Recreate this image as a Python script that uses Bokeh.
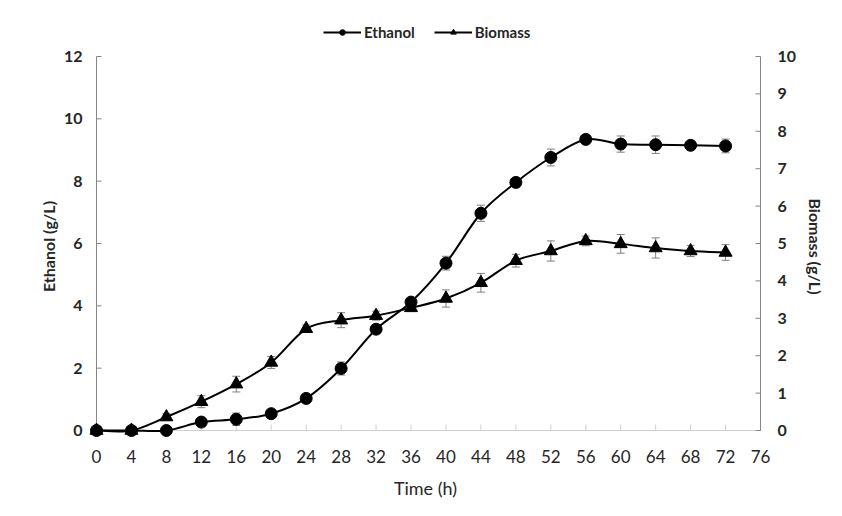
import math
from bokeh.plotting import figure
from bokeh.layouts import column
from bokeh.models import (Range1d, LinearAxis, FixedTicker, ColumnDataSource,
                          Legend, LegendItem)
from bokeh.embed import file_html
from bokeh.resources import INLINE

# ---- data ----
time_h = [0, 4, 8, 12, 16, 20, 24, 28, 32, 36, 40, 44, 48, 52, 56, 60, 64, 68, 72]
ethanol = [0, 0, 0, 0.27, 0.36, 0.54, 1.03, 1.99, 3.25, 4.12, 5.37, 6.97, 7.96,
           8.76, 9.34, 9.19, 9.17, 9.15, 9.13]
ethanol_err = [0, 0, 0, 0.05, 0.2, 0.08, 0.05, 0.21, 0.05, 0.1, 0.22, 0.26, 0.1,
               0.27, 0.08, 0.26, 0.28, 0.1, 0.22]
biomass = [0, 0, 0.36, 0.77, 1.24, 1.82, 2.72, 2.95, 3.07, 3.28, 3.53, 3.95, 4.54,
           4.8, 5.07, 4.99, 4.88, 4.8, 4.76]
biomass_err = [0, 0, 0.09, 0.16, 0.21, 0.16, 0.1, 0.2, 0.12, 0.1, 0.23, 0.25, 0.17,
               0.27, 0.13, 0.25, 0.27, 0.15, 0.21]
x_ticks = list(range(0, 77, 4))
left_ticks = [0, 2, 4, 6, 8, 10, 12]
right_ticks = list(range(0, 11))

FONT = "Lato"
TXT = "#262626"
AXC = "#868686"
XAXC = "#d0d0d0"
ERR = "#7f7f7f"

# ---- geometry of the plotting area (pixels) ----
W, LEG_H, MAIN_H = 842, 46, 470
AX_W, AX_H = 664, 374          # axis box: x 0..76, y 0..12
PAD_L, PAD_B, PAD_R, PAD_T = 8, 8, 2, 2   # frame slack so markers are not clipped

x0v, x1v = x_ticks[0], x_ticks[-1]
yl0, yl1 = left_ticks[0], left_ticks[-1]
yr0, yr1 = right_ticks[0], right_ticks[-1]
sx = AX_W / (x1v - x0v)
syl = AX_H / (yl1 - yl0)
syr = AX_H / (yr1 - yr0)


def smooth(xs, ys):
    """Catmull-Rom style cubic Bezier segments through the data points."""
    n = len(xs)
    d = dict(x0=[], y0=[], x1=[], y1=[], cx0=[], cy0=[], cx1=[], cy1=[])
    for i in range(n - 1):
        a = i - 1 if i > 0 else i
        b = i + 2 if i + 2 < n else i + 1
        d["x0"].append(xs[i]); d["y0"].append(ys[i])
        d["x1"].append(xs[i + 1]); d["y1"].append(ys[i + 1])
        d["cx0"].append(xs[i] + (xs[i + 1] - xs[a]) / 6.0)
        d["cy0"].append(ys[i] + (ys[i + 1] - ys[a]) / 6.0)
        d["cx1"].append(xs[i + 1] - (xs[b] - xs[i]) / 6.0)
        d["cy1"].append(ys[i + 1] - (ys[b] - ys[i]) / 6.0)
    return ColumnDataSource(d)


p = figure(width=W, height=MAIN_H, output_backend="svg", toolbar_location=None,
           x_range=Range1d(x0v - PAD_L / sx, x1v + PAD_R / sx),
           y_range=Range1d(yl0 - PAD_B / syl, yl1 + PAD_T / syl),
           min_border_left=96 - PAD_L, min_border_right=82 - PAD_R,
           min_border_top=56 - LEG_H - PAD_T, min_border_bottom=86 - PAD_B,
           background_fill_color="white", border_fill_color="white")
p.extra_y_ranges = {"bio": Range1d(yr0 - PAD_B / syr, yr1 + PAD_T / syr)}
p.outline_line_color = None
p.xgrid.visible = False
p.ygrid.visible = False


def style_axis(ax, size, bold, standoff):
    ax.axis_line_color = None
    ax.major_tick_line_color = None
    ax.minor_tick_line_color = None
    ax.major_tick_in = 0
    ax.major_tick_out = 0
    ax.minor_tick_in = 0
    ax.minor_tick_out = 0
    ax.major_label_text_font = FONT
    ax.major_label_text_font_size = size
    ax.major_label_text_font_style = "bold" if bold else "normal"
    ax.major_label_text_color = TXT
    ax.major_label_standoff = standoff
    ax.axis_label_text_font = FONT
    ax.axis_label_text_color = TXT


# x axis (labels only; line and ticks drawn at y = 0 below)
xa = p.xaxis[0]
xa.ticker = FixedTicker(ticks=x_ticks)
style_axis(xa, "17px", False, 19 - PAD_B)
xa.axis_label = "Time (h)"
xa.axis_label_text_font_size = "18px"
xa.axis_label_text_font_style = "normal"
xa.axis_label_standoff = 11

# left axis
ya = p.yaxis[0]
ya.ticker = FixedTicker(ticks=left_ticks)
style_axis(ya, "16px", True, 14 - PAD_L)
ya.axis_label = "Ethanol (g/L)"
ya.axis_label_text_font_size = "16px"
ya.axis_label_text_font_style = "bold"
ya.axis_label_standoff = 3

# right axis
ra = LinearAxis(y_range_name="bio", ticker=FixedTicker(ticks=right_ticks))
style_axis(ra, "16px", True, 17 - PAD_R)
ra.axis_label = "Biomass (g/L)"
ra.axis_label_text_font_size = "16px"
ra.axis_label_text_font_style = "bold"
ra.axis_label_standoff = 7
p.add_layout(ra, "right")

# axis lines and inward ticks
p.segment(x0=[x0v], y0=[yl0], x1=[x1v], y1=[yl0], line_color=XAXC, line_width=1)
p.ray(x=x_ticks, y=[yl0] * len(x_ticks), length=6, length_units="screen",
      angle=math.pi / 2, line_color=XAXC, line_width=1)
p.segment(x0=[x0v], y0=[yl0], x1=[x0v], y1=[yl1], line_color=AXC, line_width=1)
p.ray(x=[x0v] * len(left_ticks), y=left_ticks, length=5, length_units="screen",
      angle=0, line_color=AXC, line_width=1)
p.segment(x0=[x1v], y0=[yr0], x1=[x1v], y1=[yr1], line_color=AXC, line_width=1,
          y_range_name="bio")
p.ray(x=[x1v] * len(right_ticks), y=right_ticks, length=5, length_units="screen",
      angle=math.pi, line_color=AXC, line_width=1, y_range_name="bio")

# error bars
eth_src = ColumnDataSource(dict(
    x=time_h, y=ethanol,
    lo=[v - e for v, e in zip(ethanol, ethanol_err)],
    hi=[v + e for v, e in zip(ethanol, ethanol_err)]))
bio_src = ColumnDataSource(dict(
    x=time_h, y=biomass,
    lo=[v - e for v, e in zip(biomass, biomass_err)],
    hi=[v + e for v, e in zip(biomass, biomass_err)]))

p.segment(x0="x", y0="lo", x1="x", y1="hi", source=eth_src, line_color=ERR, line_width=1)
p.scatter(x="x", y="lo", source=eth_src, marker="dash", size=8, line_color=ERR, line_width=1)
p.scatter(x="x", y="hi", source=eth_src, marker="dash", size=8, line_color=ERR, line_width=1)
p.segment(x0="x", y0="lo", x1="x", y1="hi", source=bio_src, line_color=ERR,
          line_width=1, y_range_name="bio")
p.scatter(x="x", y="lo", source=bio_src, marker="dash", size=8, line_color=ERR,
          line_width=1, y_range_name="bio")
p.scatter(x="x", y="hi", source=bio_src, marker="dash", size=8, line_color=ERR,
          line_width=1, y_range_name="bio")

# smoothed lines
p.bezier(x0="x0", y0="y0", x1="x1", y1="y1", cx0="cx0", cy0="cy0", cx1="cx1",
         cy1="cy1", source=smooth(time_h, ethanol), line_color="black", line_width=2)
p.bezier(x0="x0", y0="y0", x1="x1", y1="y1", cx0="cx0", cy0="cy0", cx1="cx1",
         cy1="cy1", source=smooth(time_h, biomass), line_color="black", line_width=2,
         y_range_name="bio")

# markers
p.scatter(x="x", y="y", source=eth_src, marker="circle", size=12,
          fill_color="black", line_color="black")
p.scatter(x="x", y="y", source=bio_src, marker="triangle", size=13,
          fill_color="black", line_color="black", y_range_name="bio")

# ---- legend strip above the plot ----
lf = figure(width=W, height=LEG_H, output_backend="svg", toolbar_location=None,
            x_range=Range1d(0, 1), y_range=Range1d(0, 1),
            x_axis_type=None, y_axis_type=None,
            min_border_left=0, min_border_right=0, min_border_top=0,
            min_border_bottom=0, background_fill_color="white",
            border_fill_color="white")
lf.outline_line_color = None
lf.xgrid.visible = False
lf.ygrid.visible = False
le_line = lf.line(x=time_h, y=ethanol, line_color="black", line_width=2, visible=False)
le_pts = lf.scatter(x=time_h, y=ethanol, marker="circle", size=11,
                    fill_color="black", line_color="black", visible=False)
lb_line = lf.line(x=time_h, y=biomass, line_color="black", line_width=2, visible=False)
lb_pts = lf.scatter(x=time_h, y=biomass, marker="triangle", size=12,
                    fill_color="black", line_color="black", visible=False)
# the column aligns this strip's frame with the main frame (left edge at 88 px)
legend = Legend(items=[
    LegendItem(label="Ethanol", renderers=[le_line, le_pts]),
    LegendItem(label="Biomass", renderers=[lb_line, lb_pts]),
], orientation="horizontal", location=(323 - (96 - PAD_L), 5))
legend.border_line_color = None
legend.background_fill_alpha = 0
legend.inactive_fill_alpha = 0
legend.label_text_font = FONT
legend.label_text_font_size = "15px"
legend.label_text_font_style = "bold"
legend.label_text_color = TXT
legend.glyph_width = 38
legend.glyph_height = 14
legend.label_standoff = 3
legend.spacing = 19
legend.padding = 2
legend.margin = 0
legend.click_policy = "none"
lf.add_layout(legend)

layout = column(lf, p, spacing=0)
open("out.html", "w").write(file_html(layout, INLINE))
